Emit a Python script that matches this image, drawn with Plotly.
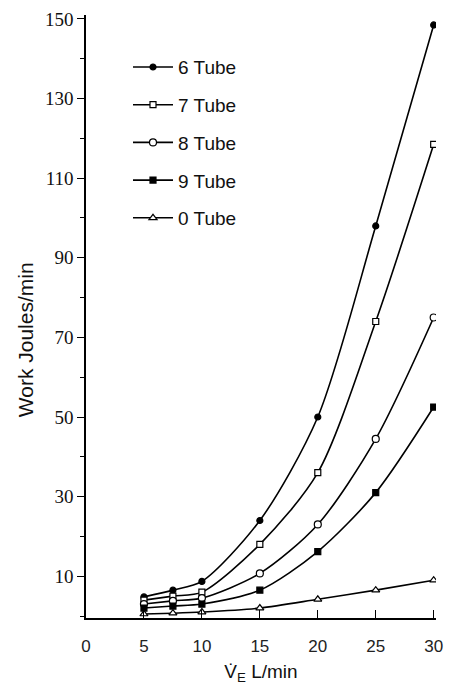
import plotly.graph_objects as go

flow = [5, 7.5, 10, 15, 20, 25, 30]
tube6 = [4.8, 6.5, 8.7, 24, 50, 98, 148.5]
tube7 = [4.0, 5.0, 6.0, 18, 36, 74, 118.5]
tube8 = [3.0, 3.8, 4.5, 10.7, 23, 44.5, 75]
tube9 = [2.0, 2.5, 3.0, 6.5, 16.2, 31, 52.5]
tube0 = [0.5, 0.7, 1.0, 2.0, 4.2, 6.5, 9.0]

series = [
    ("6 Tube", tube6, "circle", "black", 6),
    ("7 Tube", tube7, "square", "white", 6),
    ("8 Tube", tube8, "circle", "white", 7),
    ("9 Tube", tube9, "square", "black", 6),
    ("0 Tube", tube0, "triangle-up", "white", 7),
]

y_major = [10, 30, 50, 70, 90, 110, 130, 150]
y_minor = [0, 20, 40, 60, 80, 100, 120, 140]
x_ticks = [0, 5, 10, 15, 20, 25, 30]

fig = go.Figure()
for i, (name, vals, sym, fill, size) in enumerate(series):
    fig.add_trace(go.Scatter(
        x=flow, y=vals, name=name, mode="lines+markers",
        line=dict(color="black", width=1.6, shape="spline", smoothing=0.8),
        marker=dict(symbol=sym, size=size, color=fill,
                    line=dict(color="black", width=1.2)),
        legendgroup=f"g{i}",
    ))

fig.update_layout(
    width=452, height=693,
    margin=dict(l=86, r=9, t=11, b=75),
    paper_bgcolor="white", plot_bgcolor="white",
    showlegend=True,
    legend=dict(x=0.12, y=0.945, xanchor="left", yanchor="top",
                font=dict(family="Liberation Sans", size=19, color="#111"),
                tracegroupgap=10, itemwidth=40, bgcolor="rgba(0,0,0,0)"),
    font=dict(family="Liberation Sans", color="#111"),
)
fig.update_xaxes(
    range=[0, 30.2], showgrid=False, zeroline=False,
    showline=True, linecolor="black", linewidth=1.5,
    tickmode="array", tickvals=x_ticks, ticktext=[str(v) for v in x_ticks],
    ticks="inside", ticklen=8, tickcolor="black", tickwidth=1.2,
    ticklabelstandoff=12,
    tickfont=dict(family="Liberation Sans", size=17, color="#222"),
    title=dict(text="V̇<sub>E</sub> L/min", standoff=10,
               font=dict(family="Liberation Sans", size=19, color="#111")),
)
fig.update_yaxes(
    range=[-0.5, 151], showgrid=False, zeroline=False,
    showline=True, linecolor="black", linewidth=1.5,
    tickmode="array", tickvals=y_major, ticktext=[str(v) for v in y_major],
    ticks="outside", ticklen=7, tickcolor="black", tickwidth=1.2,
    tickfont=dict(family="Liberation Serif", size=19, color="#111"),
    minor=dict(tickmode="array", tickvals=y_minor, ticks="outside",
               ticklen=4, tickcolor="black", tickwidth=1),
)
fig.add_annotation(
    text="Work Joules/min", xref="paper", yref="paper",
    x=-0.172, y=0.462, textangle=-90, showarrow=False,
    xanchor="center", yanchor="middle",
    font=dict(family="Liberation Sans", size=21, color="#111"),
)
fig.write_html("out.html", config={"displayModeBar": False},
               post_script="document.body.style.margin='0px';")
